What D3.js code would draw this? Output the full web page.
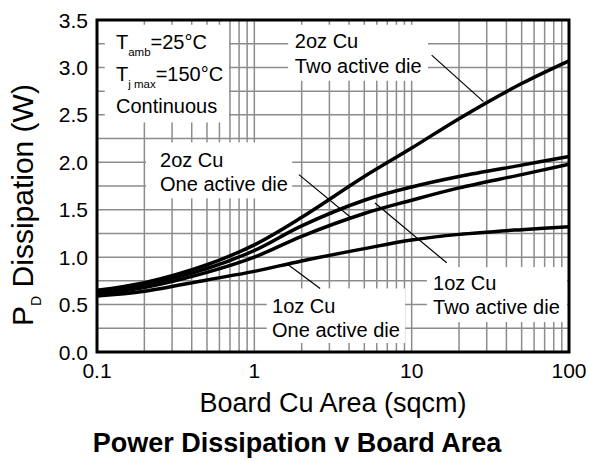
<!DOCTYPE html>
<html>
<head>
<meta charset="utf-8">
<script src="https://cdn.jsdelivr.net/npm/d3@7"></script>
<style>
  body { margin: 0; background: #fff; }
  text { font-family: 'Liberation Sans', Arial, sans-serif; fill: #000; }
</style>
</head>
<body>
<div class="container"></div>
<script>
// board copper area (sqcm) and power dissipation (W)
const areas = [0.1, 0.2, 0.5, 1, 2, 5, 10, 20, 50, 100];
const pd2ozTwoDie = [0.65, 0.73, 0.92, 1.13, 1.42, 1.85, 2.15, 2.46, 2.83, 3.07];
const pd1ozTwoDie = [0.63, 0.71, 0.88, 1.07, 1.33, 1.6, 1.74, 1.85, 1.97, 2.06];
const pd2ozOneDie = [0.61, 0.68, 0.84, 1.0, 1.22, 1.46, 1.6, 1.73, 1.87, 1.98];
const pd1ozOneDie = [0.59, 0.64, 0.76, 0.85, 0.96, 1.09, 1.18, 1.24, 1.29, 1.32];

const xTicks = [0.1, 1, 10, 100];
const yTicks = [0, 0.5, 1, 1.5, 2, 2.5, 3, 3.5];

// label boxes: white patch over the grid, text start and first baseline (data units)
const labelBoxes = [
  { x0: 0.112, x1: 0.69, y0: 3.45, y1: 2.42, tx: 0.132, ty: 3.19, step: 32, lines: [['T', 'amb', '=25°C'], ['T', 'j max', '=150°C'], ['Continuous']] },
  { x0: 1.64, x1: 12.7, y0: 3.45, y1: 2.86, tx: 1.81, ty: 3.2, step: 25, lines: [['2oz Cu'], ['Two active die']] },
  { x0: 0.205, x1: 1.74, y0: 2.21, y1: 1.62, tx: 0.2515, ty: 1.947, step: 24, lines: [['2oz Cu'], ['One active die']] },
  { x0: 1.2, x1: 9.08, y0: 0.67, y1: 0.095, tx: 1.296, ty: 0.41, step: 24, lines: [['1oz Cu'], ['One active die']] },
  { x0: 12.5, x1: 97.3, y0: 0.895, y1: 0.316, tx: 13.68, ty: 0.653, step: 24, lines: [['1oz Cu'], ['Two active die']] }
];

// leader lines from label to curve
const leaders = [
  [[13.4, 3.13], [28.6, 2.64]],
  [[1.92, 1.87], [4.16, 1.41]],
  [[5.85, 1.57], [16.7, 0.94]],
  [[1.61, 0.93], [2.62, 0.67]]
];

const renderChart = () => {
  const width = 589;
  const height = 461;
  const margin = { top: 20, right: 20, bottom: 109, left: 97 };
  const chartWidth = width - margin.left - margin.right;
  const chartHeight = height - margin.top - margin.bottom;

  const svg = d3.select('.container').append('svg').attr('width', width).attr('height', height);
  const chart = svg.append('g').attr('transform', `translate(${margin.left},${margin.top})`);

  const xScale = d3.scaleLog().domain([0.1, 100]).range([0, chartWidth]);
  const yScale = d3.scaleLinear().domain([0, 3.5]).range([chartHeight, 0]);

  // grid
  const gridX = [];
  [0.1, 1, 10].forEach(decade => d3.range(1, 10).forEach(d => gridX.push(decade * d)));
  const gridY = d3.range(0.25, 3.5, 0.25);
  const grid = chart.append('g').attr('stroke', '#8c8c8c').attr('stroke-width', 1.5);
  grid.selectAll('.gx').data(gridX.slice(1)).enter().append('line')
    .attr('x1', d => xScale(d)).attr('x2', d => xScale(d))
    .attr('y1', 0).attr('y2', chartHeight);
  grid.selectAll('.gy').data(gridY).enter().append('line')
    .attr('x1', 0).attr('x2', chartWidth)
    .attr('y1', d => yScale(d)).attr('y2', d => yScale(d));

  // white label patches
  chart.append('g').selectAll('rect').data(labelBoxes).enter().append('rect')
    .attr('x', d => xScale(d.x0))
    .attr('y', d => yScale(d.y0))
    .attr('width', d => xScale(d.x1) - xScale(d.x0))
    .attr('height', d => yScale(d.y1) - yScale(d.y0))
    .attr('fill', 'white');

  // curves
  const series = [pd2ozTwoDie, pd1ozTwoDie, pd2ozOneDie, pd1ozOneDie];
  const line = d3.line()
    .x(d => xScale(d[0]))
    .y(d => yScale(d[1]))
    .curve(d3.curveCatmullRom.alpha(0.5));
  chart.append('g').selectAll('path').data(series).enter().append('path')
    .attr('d', values => line(areas.map((a, i) => [a, values[i]])))
    .attr('fill', 'none')
    .attr('stroke', 'black')
    .attr('stroke-width', 3.5)
    .attr('stroke-linejoin', 'round');

  // leaders
  chart.append('g').selectAll('line').data(leaders).enter().append('line')
    .attr('x1', d => xScale(d[0][0])).attr('y1', d => yScale(d[0][1]))
    .attr('x2', d => xScale(d[1][0])).attr('y2', d => yScale(d[1][1]))
    .attr('stroke', 'black')
    .attr('stroke-width', 1.2);

  // label text
  labelBoxes.forEach(box => {
    box.lines.forEach((parts, i) => {
      const t = chart.append('text')
        .attr('x', xScale(box.tx))
        .attr('y', yScale(box.ty) + i * box.step)
        .attr('font-size', 20);
      t.append('tspan').text(parts[0]);
      if (parts.length > 1) {
        t.append('tspan').attr('font-size', 11.5).attr('dy', 7).text(parts[1]);
        t.append('tspan').attr('dy', -7).text(parts[2]);
      }
    });
  });

  // frame
  chart.append('rect')
    .attr('width', chartWidth).attr('height', chartHeight)
    .attr('fill', 'none').attr('stroke', 'black').attr('stroke-width', 3);

  // tick labels
  chart.append('g').selectAll('text').data(yTicks).enter().append('text')
    .attr('x', -9)
    .attr('y', d => yScale(d))
    .attr('dy', '0.36em')
    .attr('text-anchor', 'end')
    .attr('font-size', 21)
    .text(d => d.toFixed(1));

  chart.append('g').selectAll('text').data(xTicks).enter().append('text')
    .attr('x', d => xScale(d))
    .attr('y', chartHeight + 26)
    .attr('text-anchor', 'middle')
    .attr('font-size', 21)
    .text(d => d);

  // axis titles
  svg.append('text')
    .attr('x', margin.left + chartWidth / 2)
    .attr('y', 412)
    .attr('text-anchor', 'middle')
    .attr('font-size', 27)
    .text('Board Cu Area (sqcm)');

  const yTitle = svg.append('text')
    .attr('transform', 'translate(33,205) rotate(-90)')
    .attr('text-anchor', 'middle')
    .attr('font-size', 30);
  yTitle.append('tspan').text('P');
  yTitle.append('tspan').attr('font-size', 14).attr('dy', 8).text('D');
  yTitle.append('tspan').attr('dy', -8).text(' Dissipation (W)');

  svg.append('text')
    .attr('x', 297)
    .attr('y', 452)
    .attr('text-anchor', 'middle')
    .attr('font-size', 27)
    .attr('font-weight', 'bold')
    .text('Power Dissipation v Board Area');
};

renderChart();
</script>
</body>
</html>
